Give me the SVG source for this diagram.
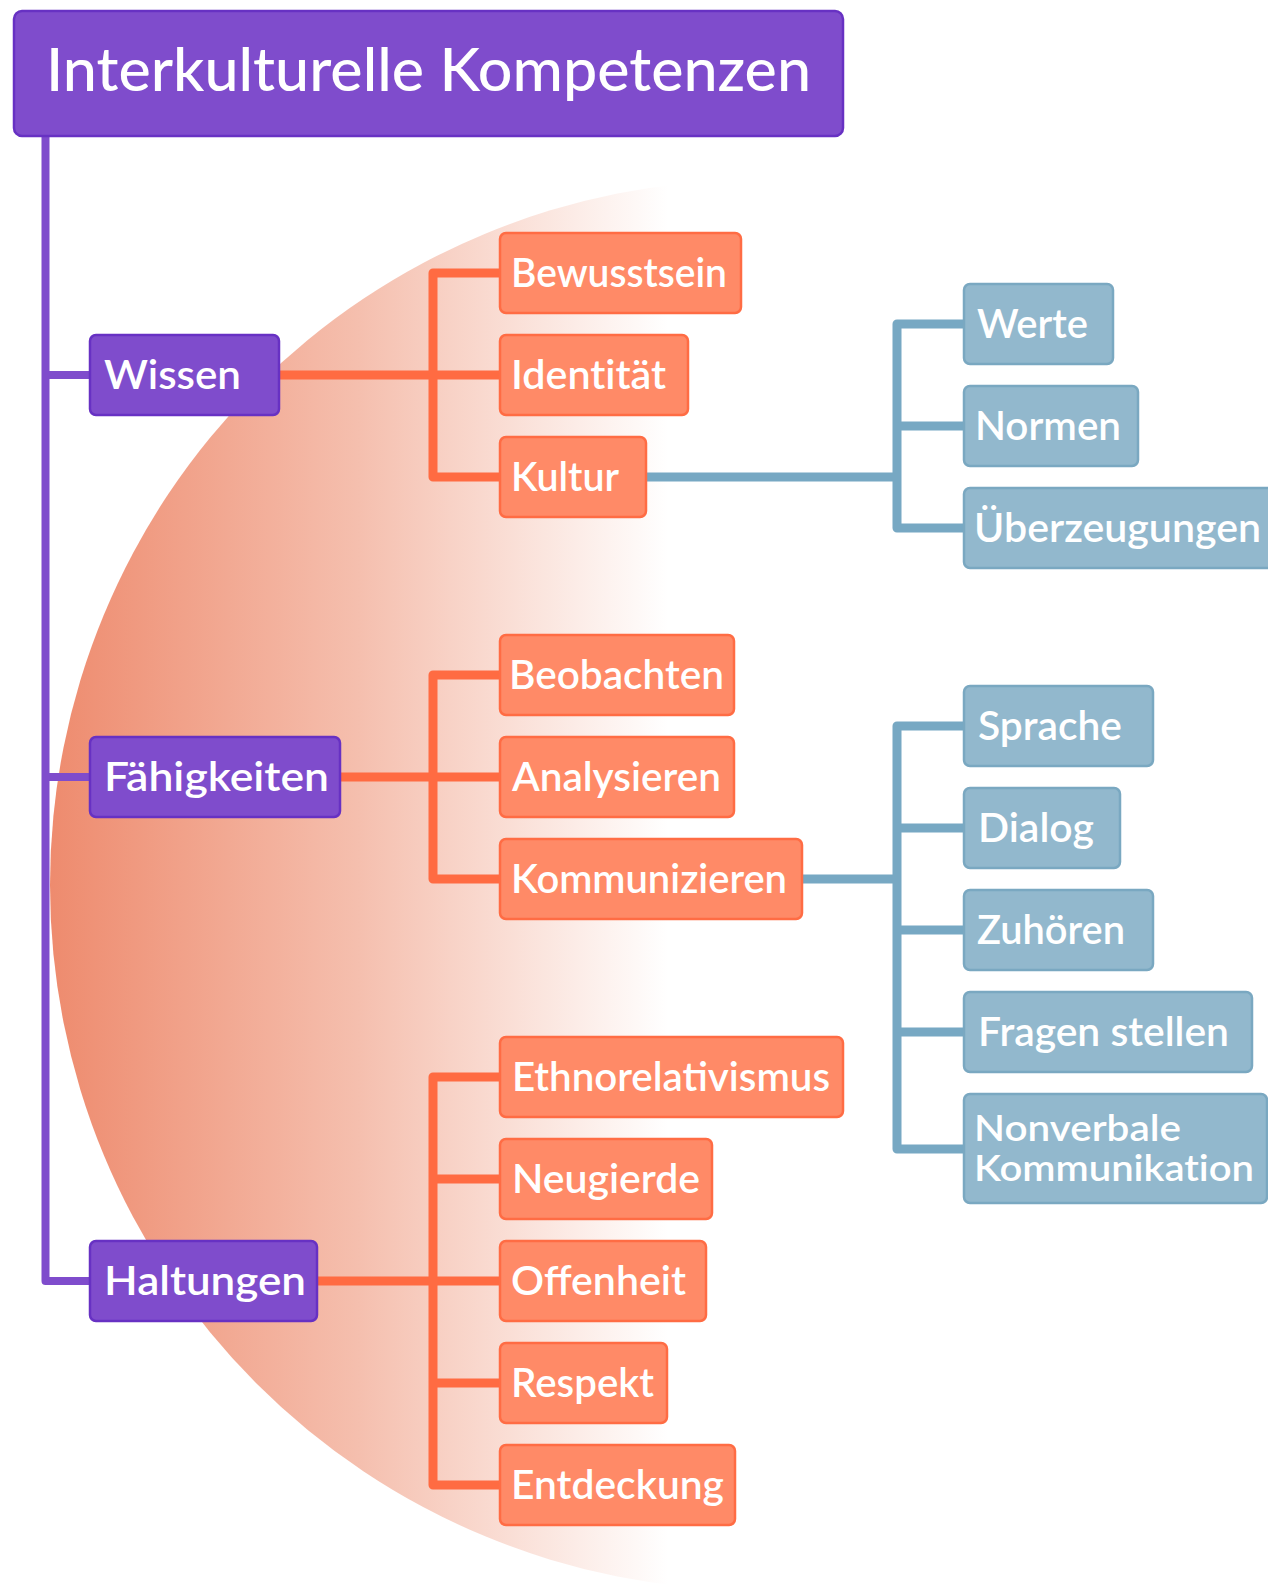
<svg xmlns="http://www.w3.org/2000/svg" width="1268" height="1586" viewBox="0 0 1268 1586">
  <defs>
    <linearGradient id="fade" gradientUnits="userSpaceOnUse" x1="50" y1="0" x2="668" y2="0">
      <stop offset="0" stop-color="#ee8b6e"/>
      <stop offset="0.5" stop-color="#f5bfae"/>
      <stop offset="1" stop-color="#ffffff"/>
    </linearGradient>
  </defs>
  <style>
    text { font-family: Lato, "Open Sans", sans-serif; font-weight: 600; fill: #ffffff; }
    .lbl { font-size: 40px; }
    .small { font-size: 36px; }
    .title { font-size: 59px; font-weight: 500; }
    .nolig { font-variant-ligatures: none; }
    .purple rect { fill: #7f4ccc; stroke: #6731c3; stroke-width: 2.5; }
    .orange rect { fill: #ff8a67; stroke: #ff6c44; stroke-width: 2.5; }
    .blue rect { fill: #92b8cd; stroke: #7aa8c1; stroke-width: 2.5; }
    .wire { fill: none; stroke-linejoin: round; stroke-linecap: butt; }
    .wp { stroke: #7f4ccc; stroke-width: 8; }
    .wo { stroke: #ff6b42; stroke-width: 9; }
    .wb { stroke: #77a8c3; stroke-width: 9; }
  </style>

  <rect width="1268" height="1586" fill="#ffffff"/>

  <!-- soft half-disc behind the tree -->
  <circle cx="755" cy="885" r="705" fill="url(#fade)"/>

  <g id="connectors">
    <path class="wire wp" d="M45.5 136 V1281 H90 M45.5 375 H90 M45.5 777 H90"/>
    <path class="wire wo" d="M279 375 H500 M500 273 H433 V477 H500"/>
    <path class="wire wo" d="M340 777 H500 M500 675 H433 V879 H500"/>
    <path class="wire wo" d="M317 1281 H500 M500 1077 H433 V1485 H500 M433 1179 H500 M433 1383 H500"/>
    <path class="wire wb" d="M646 477 H897 M964 324 H897 V528 H964 M897 426 H964"/>
    <path class="wire wb" d="M802 879 H897 M964 726 H897 V1149 H964 M897 828 H964 M897 930 H964 M897 1032 H964"/>
  </g>

  <g id="root" class="purple">
    <rect x="14" y="11" width="829" height="125" rx="8"/>
    <text class="title" x="46" y="91" textLength="765" lengthAdjust="spacingAndGlyphs">Interkulturelle Kompetenzen</text>
  </g>

  <g id="wissen" class="purple">
    <rect x="90" y="335" width="189" height="80" rx="6"/>
    <text class="lbl" x="104" y="389" textLength="137" lengthAdjust="spacingAndGlyphs">Wissen</text>
  </g>
  <g id="faehigkeiten" class="purple">
    <rect x="90" y="737" width="250" height="80" rx="6"/>
    <text class="lbl" x="104" y="791" textLength="225" lengthAdjust="spacingAndGlyphs">Fähigkeiten</text>
  </g>
  <g id="haltungen" class="purple">
    <rect x="90" y="1241" width="227" height="80" rx="6"/>
    <text class="lbl" x="104" y="1295" textLength="202" lengthAdjust="spacingAndGlyphs">Haltungen</text>
  </g>

  <g id="bewusstsein" class="orange">
    <rect x="500" y="233" width="241" height="80" rx="6"/>
    <text class="lbl" x="511" y="287" textLength="216" lengthAdjust="spacingAndGlyphs">Bewusstsein</text>
  </g>
  <g id="identitaet" class="orange">
    <rect x="500" y="335" width="188" height="80" rx="6"/>
    <text class="lbl nolig" x="511" y="389" textLength="155" lengthAdjust="spacingAndGlyphs">Identität</text>
  </g>
  <g id="kultur" class="orange">
    <rect x="500" y="437" width="146" height="80" rx="6"/>
    <text class="lbl" x="511" y="491" textLength="108" lengthAdjust="spacingAndGlyphs">Kultur</text>
  </g>
  <g id="beobachten" class="orange">
    <rect x="500" y="635" width="234" height="80" rx="6"/>
    <text class="lbl" x="509" y="689" textLength="215" lengthAdjust="spacingAndGlyphs">Beobachten</text>
  </g>
  <g id="analysieren" class="orange">
    <rect x="500" y="737" width="234" height="80" rx="6"/>
    <text class="lbl" x="512" y="791" textLength="209" lengthAdjust="spacingAndGlyphs">Analysieren</text>
  </g>
  <g id="kommunizieren" class="orange">
    <rect x="500" y="839" width="302" height="80" rx="6"/>
    <text class="lbl" x="511" y="893" textLength="276" lengthAdjust="spacingAndGlyphs">Kommunizieren</text>
  </g>
  <g id="ethnorelativismus" class="orange">
    <rect x="500" y="1037" width="343" height="80" rx="6"/>
    <text class="lbl" x="512" y="1091" textLength="318" lengthAdjust="spacingAndGlyphs">Ethnorelativismus</text>
  </g>
  <g id="neugierde" class="orange">
    <rect x="500" y="1139" width="212" height="80" rx="6"/>
    <text class="lbl" x="512" y="1193" textLength="188" lengthAdjust="spacingAndGlyphs">Neugierde</text>
  </g>
  <g id="offenheit" class="orange">
    <rect x="500" y="1241" width="206" height="80" rx="6"/>
    <text class="lbl" x="511" y="1295" textLength="175" lengthAdjust="spacingAndGlyphs">Offenheit</text>
  </g>
  <g id="respekt" class="orange">
    <rect x="500" y="1343" width="167" height="80" rx="6"/>
    <text class="lbl" x="511" y="1397" textLength="143" lengthAdjust="spacingAndGlyphs">Respekt</text>
  </g>
  <g id="entdeckung" class="orange">
    <rect x="500" y="1445" width="235" height="80" rx="6"/>
    <text class="lbl" x="511" y="1499" textLength="213" lengthAdjust="spacingAndGlyphs">Entdeckung</text>
  </g>

  <g id="werte" class="blue">
    <rect x="964" y="284" width="149" height="80" rx="6"/>
    <text class="lbl" x="977" y="338" textLength="111" lengthAdjust="spacingAndGlyphs">Werte</text>
  </g>
  <g id="normen" class="blue">
    <rect x="964" y="386" width="174" height="80" rx="6"/>
    <text class="lbl" x="975" y="440" textLength="146" lengthAdjust="spacingAndGlyphs">Normen</text>
  </g>
  <g id="ueberzeugungen" class="blue">
    <rect x="964" y="488" width="320" height="80" rx="6"/>
    <text class="lbl" x="974" y="542" textLength="287" lengthAdjust="spacingAndGlyphs">Überzeugungen</text>
  </g>
  <g id="sprache" class="blue">
    <rect x="964" y="686" width="189" height="80" rx="6"/>
    <text class="lbl" x="978" y="740" textLength="144" lengthAdjust="spacingAndGlyphs">Sprache</text>
  </g>
  <g id="dialog" class="blue">
    <rect x="964" y="788" width="156" height="80" rx="6"/>
    <text class="lbl" x="978" y="842" textLength="116" lengthAdjust="spacingAndGlyphs">Dialog</text>
  </g>
  <g id="zuhoeren" class="blue">
    <rect x="964" y="890" width="189" height="80" rx="6"/>
    <text class="lbl" x="977" y="944" textLength="148" lengthAdjust="spacingAndGlyphs">Zuhören</text>
  </g>
  <g id="fragen-stellen" class="blue">
    <rect x="964" y="992" width="288" height="80" rx="6"/>
    <text class="lbl" x="978" y="1046" textLength="251" lengthAdjust="spacingAndGlyphs">Fragen stellen</text>
  </g>
  <g id="nonverbale-kommunikation" class="blue">
    <rect x="964" y="1094" width="303" height="109" rx="6"/>
    <text class="small" x="974" y="1141" textLength="207" lengthAdjust="spacingAndGlyphs">Nonverbale</text>
    <text class="small nolig" x="974" y="1181" textLength="280" lengthAdjust="spacingAndGlyphs">Kommunikation</text>
  </g>
</svg>
